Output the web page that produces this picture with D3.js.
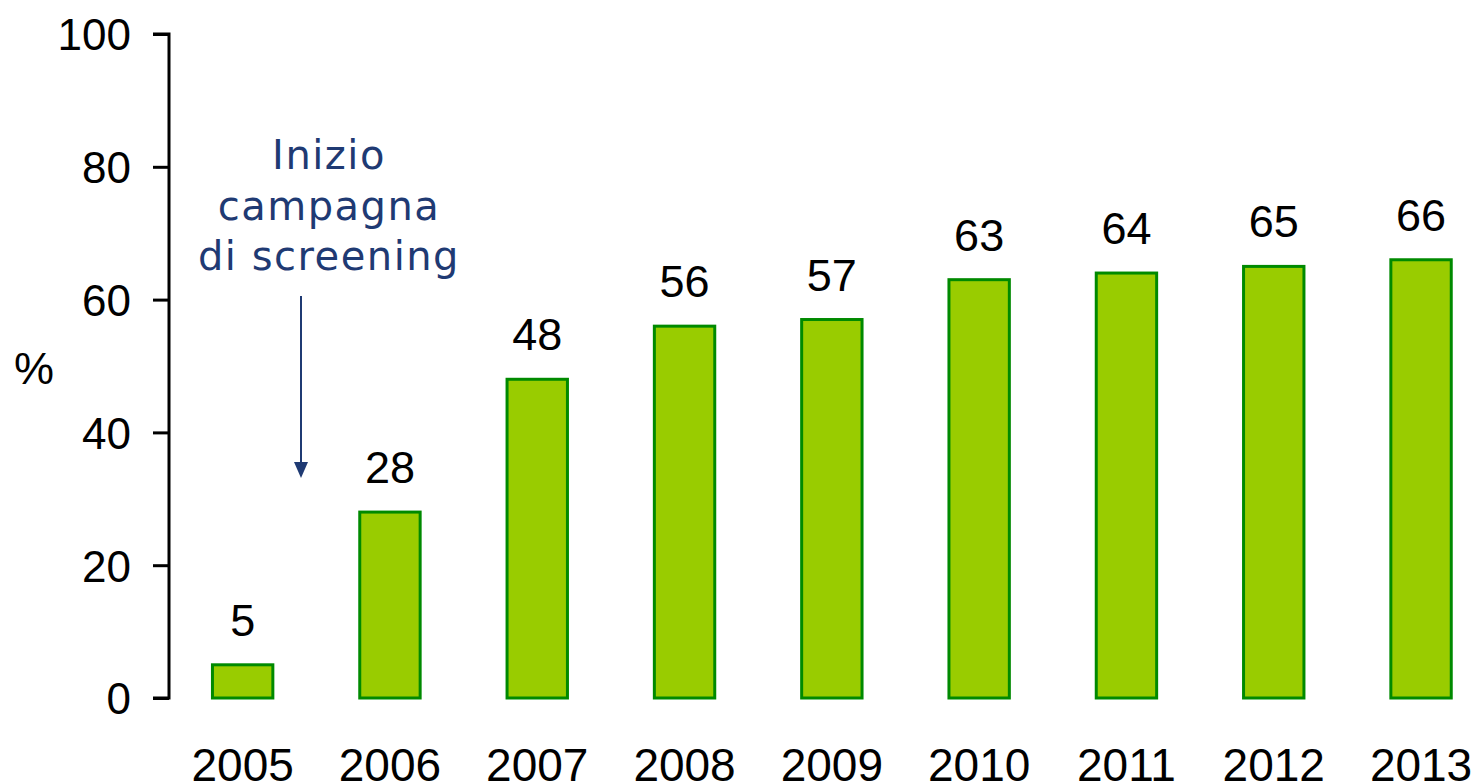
<!DOCTYPE html>
<html><head><meta charset="utf-8">
<script src="https://cdn.jsdelivr.net/npm/d3@7/dist/d3.min.js"></script>
<style>body{margin:0;background:#fff}svg{display:block}</style>
</head><body>
<svg id="c" width="1477" height="784"></svg>
<script>
const years = ["2005","2006","2007","2008","2009","2010","2011","2012","2013"];
const values = [5,28,48,56,57,63,64,65,66];
const yTicks = [0,20,40,60,80,100];
const annotationLines = ["Inizio","campagna","di screening"];

const svg = d3.select("#c");
const x0 = 169, y0 = 698, yTop = 34;
const step = 147.3;
const x = d3.scaleBand().domain(years).range([x0, x0 + step*years.length]).paddingInner(0.59).paddingOuter(0.295);
const y = d3.scaleLinear().domain([0,100]).range([y0, yTop]);
const font = "Liberation Sans, Arial, sans-serif";

// y axis
const yAxis = svg.append("g").attr("transform", `translate(${x0},0)`)
  .call(d3.axisLeft(y).tickValues(yTicks).tickSize(16).tickPadding(22));
yAxis.select(".domain").attr("stroke","#000").attr("stroke-width",3).attr("d", `M-16,${yTop}H0V${y0}H-16`);
yAxis.selectAll(".tick line").attr("stroke","#000").attr("stroke-width",3);
yAxis.selectAll(".tick text").attr("font-family",font).attr("font-size",44).attr("fill","#000").attr("dy","0.36em");

svg.append("text").attr("x",34).attr("y",384).attr("text-anchor","middle")
  .attr("font-family",font).attr("font-size",45).text("%");

// bars
svg.selectAll("rect.bar").data(values).enter().append("rect")
  .attr("x",(d,i)=>x(years[i])).attr("width",x.bandwidth())
  .attr("y",d=>y(d)).attr("height",d=>y0-y(d))
  .attr("fill","#99CC00").attr("stroke","#008A00").attr("stroke-width",3);

// value labels
svg.selectAll("text.val").data(values).enter().append("text")
  .attr("x",(d,i)=>x(years[i])+x.bandwidth()/2).attr("y",d=>y(d)-29)
  .attr("text-anchor","middle").attr("font-family",font).attr("font-size",45).text(d=>d);

// x labels
svg.selectAll("text.yr").data(years).enter().append("text")
  .attr("x",d=>x(d)+x.bandwidth()/2).attr("y",781)
  .attr("text-anchor","middle").attr("font-family",font).attr("font-size",46).text(d=>d);

// annotation
const navy = "#1F3A73";
svg.append("text").attr("text-anchor","middle").attr("font-family","DejaVu Sans, Verdana, sans-serif")
  .attr("font-size",40).attr("fill",navy).attr("letter-spacing","1.5")
  .selectAll("tspan").data(annotationLines).enter().append("tspan")
  .attr("x",329).attr("y",(d,i)=>169+i*50.5).text(d=>d);
svg.append("line").attr("x1",301).attr("x2",301).attr("y1",296).attr("y2",466)
  .attr("stroke",navy).attr("stroke-width",2);
svg.append("path").attr("d","M294,462 L308,462 L301,478 Z").attr("fill",navy);
</script>
</body></html>
